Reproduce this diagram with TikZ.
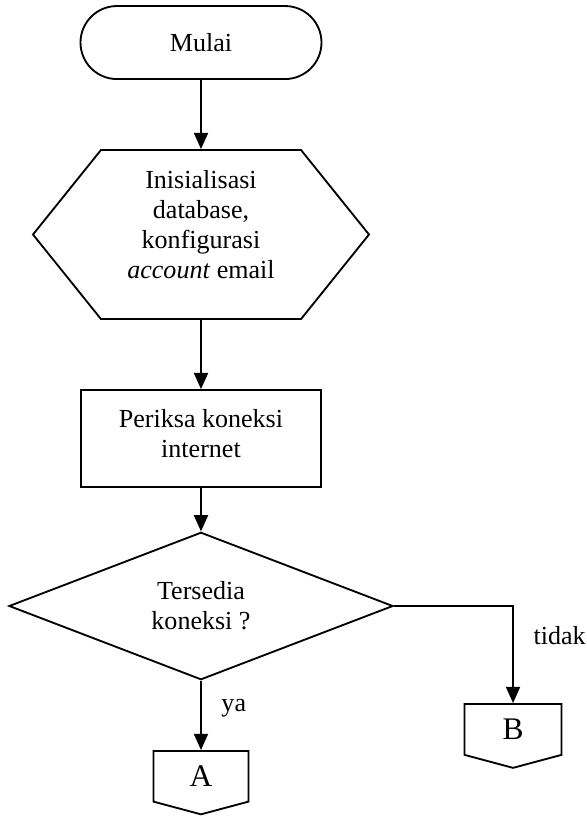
\documentclass[tikz,border=0pt]{standalone}
\usepackage{fontspec}
\setmainfont{Liberation Serif}
\usepackage{tikz}
\usetikzlibrary{arrows.meta,positioning,shapes.misc,shapes.geometric,shapes.symbols}

\begin{document}
\begin{tikzpicture}[
    line width=0.85pt,
    font=\fontsize{12}{13.8}\selectfont,
    terminal/.style={draw, rounded rectangle, minimum width=3.904cm, minimum height=1.183cm, inner sep=0pt},
    prep/.style={draw, signal, signal to=east and west, signal pointer angle=102.4, minimum width=5.443cm, minimum height=2.738cm, inner sep=0pt, align=center, text depth=0.33cm},
    process/.style={draw, rectangle, minimum width=3.888cm, minimum height=1.571cm, inner sep=0pt, align=center, text depth=0.17cm},
    decision/.style={draw, diamond, minimum width=6.221cm, minimum height=2.333cm, inner sep=0pt, align=center},
    offpage/.style={draw, signal, signal to=south, signal pointer angle=150, minimum height=0.87cm, inner sep=0pt, anchor=north, font=\fontsize{14.5}{16}\selectfont},
    arrow/.style={-{Triangle[length=7.5pt, width=6.5pt]}}
]
\useasboundingbox (0,0) rectangle (9.509,-13.235);

% alur utama
\node[terminal] (mulai) at (3.256, -0.689) {Mulai};
\node[prep] (init) at (3.256, -3.799) {Inisialisasi\\database,\\konfigurasi\\\textit{account} email};
\node[process] (cek) at (3.256, -7.104) {Periksa koneksi\\internet};
\node[decision] (tanya) at (3.256, -9.817) {Tersedia\\koneksi ?};

% konektor halaman
\node[offpage, minimum width=1.539cm] (A) at (3.256, -12.150) {A};
\node[offpage, minimum width=1.571cm] (B) at (8.311, -11.389) {B};

\draw[arrow] (mulai) -- (init);
\draw[arrow] (init) -- (cek);
\draw[arrow] (cek) -- (tanya);
\draw[arrow] (tanya.south) -- (A.north) node[pos=0.4, right=2mm] {ya};
\draw[arrow] (tanya.east) -| (B.north) node[pos=0.65, right=2mm] {tidak};
\end{tikzpicture}
\end{document}
